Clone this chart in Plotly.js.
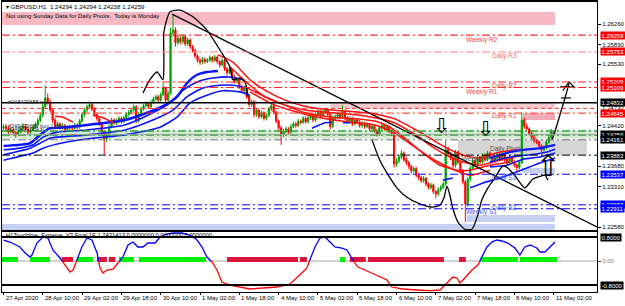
<!DOCTYPE html>
<html><head><meta charset="utf-8">
<script src="https://cdn.plot.ly/plotly-3.0.1.min.js"></script>
<style>body{margin:0;padding:0;background:#fff}#chart{width:625px;height:306px}</style>
</head><body><div id="chart"></div>
<script>
// ---------- DATA ----------
const O=[1.2437,1.2440,1.2436,1.2431,1.2434,1.2429,1.2426,1.2431,1.2437,1.2441,
1.2434,1.2430,1.2433,1.2439,1.2444,1.2451,1.2460,1.2476,1.2492,1.2485,
1.2470,1.2452,1.2440,1.2445,1.2438,1.2442,1.2435,1.2440,1.2438,1.2437,
1.2443,1.2439,1.2450,1.2462,1.2470,1.2476,1.2480,1.2472,1.2462,1.2455,
1.2445,1.2430,1.2418,1.2425,1.2440,1.2452,1.2447,1.2450,1.2455,1.2449,
1.2456,1.2462,1.2466,1.2470,1.2476,1.2450,1.2462,1.2472,1.2478,1.2482,
1.2476,1.2484,1.2490,1.2494,1.2488,1.2498,1.2510,1.2488,1.2500,1.2610,
1.2615,1.2592,1.2600,1.2594,1.2603,1.2590,1.2597,1.2585,1.2578,1.2568,
1.2560,1.2557,1.2562,1.2558,1.2561,1.2565,1.2560,1.2566,1.2558,1.2552,
1.2560,1.2545,1.2538,1.2544,1.2530,1.2522,1.2526,1.2512,1.2505,1.2510,
1.2495,1.2480,1.2485,1.2462,1.2470,1.2458,1.2465,1.2455,1.2460,1.2472,
1.2478,1.2466,1.2450,1.2438,1.2426,1.2432,1.2436,1.2430,1.2440,1.2445,
1.2442,1.2450,1.2448,1.2455,1.2449,1.2456,1.2460,1.2452,1.2462,1.2468,
1.2460,1.2466,1.2470,1.2462,1.2440,1.2455,1.2458,1.2462,1.2457,1.2468,
1.2456,1.2450,1.2455,1.2445,1.2452,1.2448,1.2442,1.2446,1.2440,1.2444,
1.2436,1.2441,1.2433,1.2426,1.2438,1.2442,1.2436,1.2440,1.2432,1.2428,
1.2372,1.2378,1.2385,1.2392,1.2380,1.2375,1.2368,1.2360,1.2364,1.2352,
1.2348,1.2342,1.2346,1.2336,1.2330,1.2334,1.2322,1.2318,1.2326,1.2330,
1.2336,1.2398,1.2390,1.2384,1.2370,1.2394,1.2375,1.2360,1.2340,1.2300,
1.2345,1.2365,1.2378,1.2370,1.2384,1.2376,1.2388,1.2380,1.2392,1.2385,
1.2378,1.2383,1.2390,1.2382,1.2388,1.2380,1.2374,1.2384,1.2376,1.2370,
1.2366,1.2375,1.2452,1.2440,1.2436,1.2428,1.2420,1.2415,1.2412,1.2405,
1.2398,1.2402,1.2412,1.2420,1.24294];
const H=[1.2444,1.2445,1.2440,1.2438,1.2437,1.2432,1.2435,1.2441,1.2446,1.2444,
1.2437,1.2436,1.2443,1.2448,1.2456,1.2465,1.2481,1.2515,1.2500,1.2488,
1.2473,1.2456,1.2449,1.2448,1.2446,1.2445,1.2443,1.2443,1.2442,1.2447,
1.2446,1.2454,1.2466,1.2474,1.2480,1.2486,1.2484,1.2475,1.2466,1.2458,
1.2448,1.2433,1.2430,1.2444,1.2456,1.2455,1.2454,1.2459,1.2458,1.2460,
1.2466,1.2470,1.2474,1.2480,1.2479,1.2466,1.2476,1.2482,1.2486,1.2485,
1.2488,1.2494,1.2498,1.2497,1.2502,1.2519,1.2513,1.2505,1.2619,1.2642,
1.2620,1.2606,1.2604,1.2608,1.2606,1.2601,1.2600,1.2588,1.2581,1.2571,
1.2564,1.2566,1.2565,1.2564,1.2569,1.2568,1.2570,1.2569,1.2561,1.2564,
1.2563,1.2548,1.2548,1.2547,1.2534,1.2530,1.2529,1.2516,1.2514,1.2513,
1.2498,1.2489,1.2488,1.2474,1.2473,1.2469,1.2468,1.2464,1.2476,1.2482,
1.2481,1.2469,1.2453,1.2441,1.2436,1.2440,1.2439,1.2444,1.2449,1.2448,
1.2454,1.2453,1.2459,1.2458,1.2460,1.2464,1.2463,1.2466,1.2472,1.2471,
1.2470,1.2474,1.2473,1.2465,1.2459,1.2462,1.2466,1.2465,1.2479,1.2471,
1.2459,1.2459,1.2458,1.2456,1.2455,1.2452,1.2450,1.2449,1.2448,1.2447,
1.2445,1.2444,1.2436,1.2442,1.2446,1.2445,1.2444,1.2443,1.2435,1.2431,
1.2383,1.2389,1.2397,1.2395,1.2384,1.2378,1.2371,1.2368,1.2367,1.2356,
1.2351,1.2350,1.2349,1.2339,1.2338,1.2337,1.2325,1.2330,1.2334,1.2340,
1.2415,1.2404,1.2394,1.2387,1.2398,1.2397,1.2378,1.2363,1.2343,1.2349,
1.2369,1.2382,1.2381,1.2388,1.2387,1.2392,1.2391,1.2396,1.2395,1.2388,
1.2386,1.2394,1.2393,1.2392,1.2391,1.2383,1.2388,1.2387,1.2379,1.2373,
1.2379,1.2466,1.2456,1.2446,1.2439,1.2431,1.2424,1.2418,1.2415,1.2408,
1.2406,1.2416,1.2424,1.2436,1.24294];
const L=[1.2434,1.2432,1.2427,1.2428,1.2425,1.2420,1.2423,1.2428,1.2434,1.2430,
1.2426,1.2427,1.2431,1.2436,1.2441,1.2448,1.2457,1.2472,1.2480,1.2466,
1.2447,1.2436,1.2436,1.2434,1.2435,1.2431,1.2432,1.2434,1.2433,1.2434,
1.2435,1.2436,1.2447,1.2458,1.2466,1.2472,1.2468,1.2458,1.2451,1.2441,
1.2426,1.2389,1.2412,1.2421,1.2437,1.2443,1.2443,1.2446,1.2445,1.2446,
1.2452,1.2458,1.2462,1.2467,1.2446,1.2447,1.2459,1.2469,1.2475,1.2472,
1.2473,1.2481,1.2486,1.2484,1.2485,1.2495,1.2484,1.2485,1.2497,1.2603,
1.2585,1.2588,1.2589,1.2590,1.2586,1.2586,1.2581,1.2574,1.2564,1.2556,
1.2552,1.2553,1.2554,1.2555,1.2557,1.2556,1.2557,1.2554,1.2547,1.2549,
1.2541,1.2533,1.2535,1.2526,1.2518,1.2518,1.2508,1.2500,1.2501,1.2490,
1.2476,1.2476,1.2457,1.2458,1.2454,1.2455,1.2451,1.2451,1.2457,1.2468,
1.2462,1.2446,1.2433,1.2407,1.2421,1.2428,1.2426,1.2427,1.2437,1.2438,
1.2439,1.2444,1.2445,1.2445,1.2446,1.2452,1.2448,1.2449,1.2459,1.2456,
1.2457,1.2462,1.2458,1.2435,1.2437,1.2451,1.2454,1.2453,1.2454,1.2452,
1.2446,1.2446,1.2441,1.2442,1.2444,1.2438,1.2438,1.2436,1.2437,1.2432,
1.2433,1.2429,1.2422,1.2423,1.2434,1.2432,1.2432,1.2428,1.2423,1.2366,
1.2367,1.2374,1.2381,1.2376,1.2370,1.2363,1.2355,1.2356,1.2348,1.2343,
1.2338,1.2338,1.2332,1.2326,1.2326,1.2318,1.2310,1.2314,1.2322,1.2327,
1.2333,1.2385,1.2379,1.2365,1.2366,1.2371,1.2355,1.2335,1.2267,1.2295,
1.2340,1.2361,1.2366,1.2367,1.2372,1.2373,1.2376,1.2377,1.2381,1.2374,
1.2375,1.2380,1.2378,1.2379,1.2376,1.2370,1.2371,1.2372,1.2366,1.2358,
1.2362,1.2372,1.2436,1.2432,1.2424,1.2416,1.2410,1.2408,1.2401,1.2394,
1.2395,1.2399,1.2409,1.2417,1.24238];
const C=[1.2440,1.2436,1.2431,1.2434,1.2429,1.2426,1.2431,1.2437,1.2441,1.2434,
1.2430,1.2433,1.2439,1.2444,1.2451,1.2460,1.2476,1.2492,1.2485,1.2470,
1.2452,1.2440,1.2445,1.2438,1.2442,1.2435,1.2440,1.2438,1.2437,1.2443,
1.2439,1.2450,1.2462,1.2470,1.2476,1.2480,1.2472,1.2462,1.2455,1.2445,
1.2430,1.2418,1.2425,1.2440,1.2452,1.2447,1.2450,1.2455,1.2449,1.2456,
1.2462,1.2466,1.2470,1.2476,1.2450,1.2462,1.2472,1.2478,1.2482,1.2476,
1.2484,1.2490,1.2494,1.2488,1.2498,1.2510,1.2488,1.2500,1.2610,1.2615,
1.2592,1.2600,1.2594,1.2603,1.2590,1.2597,1.2585,1.2578,1.2568,1.2560,
1.2557,1.2562,1.2558,1.2561,1.2565,1.2560,1.2566,1.2558,1.2552,1.2560,
1.2545,1.2538,1.2544,1.2530,1.2522,1.2526,1.2512,1.2505,1.2510,1.2495,
1.2480,1.2485,1.2462,1.2470,1.2458,1.2465,1.2455,1.2460,1.2472,1.2478,
1.2466,1.2450,1.2438,1.2426,1.2432,1.2436,1.2430,1.2440,1.2445,1.2442,
1.2450,1.2448,1.2455,1.2449,1.2456,1.2460,1.2452,1.2462,1.2468,1.2460,
1.2466,1.2470,1.2462,1.2440,1.2455,1.2458,1.2462,1.2457,1.2468,1.2456,
1.2450,1.2455,1.2445,1.2452,1.2448,1.2442,1.2446,1.2440,1.2444,1.2436,
1.2441,1.2433,1.2426,1.2438,1.2442,1.2436,1.2440,1.2432,1.2428,1.2372,
1.2378,1.2385,1.2392,1.2380,1.2375,1.2368,1.2360,1.2364,1.2352,1.2348,
1.2342,1.2346,1.2336,1.2330,1.2334,1.2322,1.2318,1.2326,1.2330,1.2336,
1.2398,1.2390,1.2384,1.2370,1.2394,1.2375,1.2360,1.2340,1.2300,1.2345,
1.2365,1.2378,1.2370,1.2384,1.2376,1.2388,1.2380,1.2392,1.2385,1.2378,
1.2383,1.2390,1.2382,1.2388,1.2380,1.2374,1.2384,1.2376,1.2370,1.2366,
1.2375,1.2452,1.2440,1.2436,1.2428,1.2420,1.2415,1.2412,1.2405,1.2398,
1.2402,1.2412,1.2420,1.2432,1.24259];

const timeTickBars=[0,16,32,48,64,80,96,112,128,144,160,176,192,208,224];
const timeTickLabels=["27 Apr 2020","28 Apr 10:00","29 Apr 02:00","29 Apr 18:00","30 Apr 10:00","1 May 02:00","1 May 18:00","4 May 10:00","5 May 02:00","5 May 18:00","6 May 10:00","7 May 02:00","7 May 18:00","8 May 10:00","11 May 02:00"];

const priceTicks=[1.26260,1.25890,1.25530,1.24420,1.23680,1.23310,1.22580];

// moving averages (bar index, price)
const maUpX=[[0,10.8,14.9,18.9,25.8,34.0,49.4,59.6,64.9,70.6,74.7,78.8,82.8,87.3],
 [0,6.7,12.0,16.1,21.8,34.0,49.4,60.8,67.8,73.1,78.8,85.3,92.2,97.5],
 [0,10.8,14.9,18.9,34.0,49.4,60.8,69.0,74.7,81.2,88.1,93.4,99.1],
 [0,12.0,16.1,25.8,36.4,49.4,63.7,70.6,75.9,82.8,89.3,96.3,100.3]];
const maUpY=[[1.2405,1.2410,1.2425,1.2437,1.2439,1.2443,1.2452,1.2467,1.2477,1.2494,1.2519,1.2534,1.2539,1.2541],
 [1.2398,1.2401,1.2407,1.2421,1.2430,1.2434,1.2443,1.2465,1.2483,1.2506,1.2521,1.2528,1.2530,1.2525],
 [1.2389,1.2401,1.2410,1.2419,1.2425,1.2434,1.2452,1.2470,1.2494,1.2510,1.2515,1.2515,1.2510],
 [1.2379,1.2392,1.2401,1.2412,1.2419,1.2425,1.2439,1.2457,1.2483,1.2497,1.2505,1.2503,1.2497]];
const maDownX=[[87.3,93.4,100.3,106.4,114.6,122.7,133.7,143.1,151.2,159.3,166.7,173.6,180.5,186.6,193.9,202.1,210.2],
 [92.2,100.3,106.4,114.6,122.7,133.7,144.3,151.2,158.5,166.7,174.8,181.7,188.6,193.9,202.1,210.2],
 [98.3,105.2,112.5,122.7,133.7,144.3,151.2,157.3,164.2,170.7,177.7,184.6,189.9,198.0,206.2],
 [100.3,108.5,116.6,128.8,141.0,151.2,159.3,167.5,175.6,183.8,189.9,198.0],
 [21.0,24.2,28.3],[36.4,40.5,44.6]];
const maDownY=[[1.2570,1.2557,1.2525,1.2506,1.2488,1.2477,1.2470,1.2467,1.2463,1.2454,1.2437,1.2419,1.2401,1.2389,1.2383,1.2394,1.2398],
 [1.2548,1.2515,1.2494,1.2479,1.2470,1.2465,1.2461,1.2456,1.2448,1.2428,1.2403,1.2385,1.2374,1.2370,1.2379,1.2387],
 [1.2512,1.2497,1.2483,1.2465,1.2457,1.2454,1.2450,1.2439,1.2416,1.2392,1.2370,1.2361,1.2361,1.2370,1.2376],
 [1.2503,1.2483,1.2470,1.2456,1.2448,1.2443,1.2428,1.2403,1.2379,1.2361,1.2352,1.2361],
 [1.2459,1.2457,1.2448],[1.2461,1.2456,1.2447]];
const maEndX=[[198.0,206.2,211.5,218.4,224.5],[198.0,206.2,214.3,221.2,224.5],[198.0,204.9,211.5,218.4,224.5],
 [189.9,195.2,202.1,210.2,218.4,224.5],[178.9,182.9],[125.6,130.9,133.7],[138.2,141.0]];
const maEndY=[[1.2383,1.2394,1.2398,1.2401,1.2407],[1.2376,1.2385,1.2389,1.2394,1.2399],[1.2367,1.2370,1.2381,1.2385,1.2392],
 [1.2329,1.2338,1.2347,1.2360,1.2374,1.2383],[1.2343,1.2347],[1.2437,1.2447,1.2448],[1.2447,1.2447]];

// hand drawings (bar index, price)
const trendX=[68.6,241.6], trendY=[1.2644,1.2258];
const arcX=[56.8,59.6,62.5,64.9,65.3,65.3,67.8,71.8,77.1,82.8,88.1,92.2,93.4,96.3,98.3,99.5];
const arcY=[1.2501,1.2525,1.2539,1.2525,1.2561,1.2612,1.2648,1.2651,1.2639,1.2615,1.2579,1.2548,1.2525,1.2528,1.2521,1.2494];
const cupX=[150.0,153.2,156.1,160.1,164.2,169.5,174.8,177.7,179.3,180.5,181.7,182.9,185.0,187.8,190.7,193.1,194.7,197.2,200.0,203.3,205.3,208.2,212.2,215.5,218.4,220.4,221.6];
const cupY=[1.2416,1.2379,1.2356,1.2329,1.2312,1.2300,1.2294,1.2298,1.2311,1.2332,1.2316,1.2292,1.2267,1.2254,1.2254,1.2280,1.2307,1.2329,1.2347,1.2369,1.2365,1.2351,1.2329,1.2345,1.2350,1.2352,1.2343];
const upCurveX=[223.3,224.9,226.5,228.1,229.3,230.2];
const upCurveY=[1.2416,1.2437,1.2461,1.2485,1.2503,1.2519];
const headX=[227.7,230.2,232.7,null,226.5,232.2,null,226.9,231.0];
const headY=[1.2505,1.2521,1.2510,null,1.2512,1.2512,null,1.2492,1.2492];

// pivot levels
const lvlPrice=[1.26059,1.25753,1.25209,1.25109,1.24832,1.24730,1.24645,1.2432,1.2425,1.24259,1.24161,1.23883,1.23537,1.22983,1.22911];
const lvlColor=['#ff0000','#ff8080','#ff2020','#ff2020','#000000','#ff3030','#ff3010','#2e9e2e','#2e9e2e','#a0a0a0','#707070','#000000','#0000ff','#0000ff','#0000ff'];
const lvlDash=['dd','dd','dd','dd','solid','dash','dd','dd','dd','solid','dd','dd','dd','dd','dd'];
const lvlWidth=[1,1,1,1,1.5,1,1,1.5,1.5,1,1,1,1,1,1];

const zoneX0=[-0.61,133,211.5,185,211,188.6,-0.61,-0.61];
const zoneX1=[224.5,224.5,224.5,237.5,224.5,224.5,224.5,241.6];
const zoneLo=[1.26242,1.24730,1.2452,1.23883,1.2356,1.2267,1.22526,1.2418];
const zoneHi=[1.26478,1.24832,1.24645,1.24161,1.2365,1.2280,1.22635,1.2432];
const zoneColor=['#f8b8c4','#f8c6ce','#f6a9b8','#d5d5d5','#c6d0f2','#c6d0f2','#c6d0f2','rgba(60,170,60,0.22)'];

const pivNames=['Weekly R2','Daily R3','Daily R2','Weekly R1','Daily R1','Daily Pivot','Weekly Pivot','Daily S1','Daily S2','Weekly S1'];
const pivX=[194.7,204.1,204.1,194.7,204.1,204.5,194.3,204.1,204.1,194.7];
const pivY=[1.2597,1.2568,1.2514,1.2503,1.2459,1.2399,1.2381,1.2347,1.2292,1.2285];
const pivColor=['#f04848','#ff6a6a','#f04848','#f04848','#f04848','#505050','#505050','#4060ff','#4060ff','#4060ff'];

const tagPrice=[1.26059,1.25753,1.25209,1.25109,1.24832,1.24645,1.24259,1.24161,1.23883,1.23537,1.22983,1.22911];
const tagColor=['#ff0000','#ff0000','#ff0000','#ff0000','#000000','#ff0000','#000000','#000000','#000000','#0000ff','#0000ff','#0000ff'];

// indicator
const indX=[0,2.6,6.7,8.8,10.8,11.6,13.6,16.1,18.1,20.1,23.0,24.2,25.8,27.1,28.3,29.9,31.9,34.0,36.0,38.1,39.3,40.5,42.1,44.6,46.6,48.6,50.7,52.7,54.7,56.8,58.8,61.7,63.7,66.5,69.0,72.6,75.9,78.8,80.8,82.8,84.9,86.9,88.9,92.2,96.3,100.3,105.6,111.3,116.6,119.9,121.9,123.5,124.7,126.8,128.8,130.9,132.9,134.9,137.8,139.8,141.0,142.2,144.3,147.1,150.0,153.2,156.1,158.1,162.6,168.3,173.6,177.7,180.5,182.9,184.6,185.8,187.8,190.7,193.1,194.7,196.8,198.8,200.9,202.9,205.3,208.2,210.2,212.2,214.3,217.1,218.4,220.4,222.4,224.5];
const indV=[0.70,0.633,0.467,0.267,0.133,0.2,0.6,0.8,0.767,0.367,0.1,-0.033,-0.233,-0.367,-0.3,0.033,0.467,0.767,0.7,0.267,-0.233,-0.4,-0.3,-0.267,-0.067,0.133,0.533,0.633,0.467,0.467,0.6,0.6,0.8,0.9,0.933,0.933,0.867,0.7,0.467,0.133,-0.033,-0.3,-0.7,-0.8,-0.867,-0.933,-0.9,-0.867,-0.767,-0.533,-0.367,-0.233,0.033,0.467,0.767,0.8,0.633,0.467,0.433,0.367,0.2,0.033,-0.2,-0.3,-0.4,-0.533,-0.633,-0.867,-0.933,-0.967,-0.99,-0.967,-0.733,-0.533,-0.567,-0.733,-0.567,-0.3,-0.133,0.133,0.467,0.633,0.7,0.667,0.6,0.433,0.2,0.467,0.533,0.433,0.3,0.3,0.467,0.633];
const sigGreenFrom=[-0.6,10.8,29.9,47.0,55.1,137,194.3,210.2];
const sigGreenTo=[5.9,18.9,36.4,53.1,82.4,139,209.4,225.3];
const sigRedFrom=[23.8,38.1,42.9,91,120.7,141,148.4,185.4];
const sigRedTo=[28.3,42.1,45.4,119.9,123.5,147.5,179.3,188.2];

// ---------- BUILD ----------
const FF='"Liberation Sans",Arial,sans-serif';
const idx=C.map((_,i)=>i);
const XR=[-0.61,241.6];
const traces=[];
traces.push({type:'candlestick',x:idx,open:O,high:H,low:L,close:C,xaxis:'x',yaxis:'y',
  increasing:{line:{color:'#00a000',width:1},fillcolor:'#00a000'},
  decreasing:{line:{color:'#ff0000',width:1},fillcolor:'#ff0000'},whiskerwidth:0,hoverinfo:'skip'});
const line=(x,y,color,width,ax)=>({type:'scatter',mode:'lines',x:x,y:y,xaxis:ax?'x2':'x',yaxis:ax?'y2':'y',
  line:{color:color,width:width,shape:'spline',smoothing:0.6},hoverinfo:'skip',connectgaps:false});
maUpX.forEach((x,k)=>traces.push(line(x,maUpY[k],'#0a14ff',k===0?2.5:1.6)));
maDownX.forEach((x,k)=>traces.push(line(x,maDownY[k],'#ff1010',1.5)));
maEndX.forEach((x,k)=>traces.push(line(x,maEndY[k],'#0a14ff',k===0?2.2:1.6)));
traces.push(line(trendX,trendY,'#000',1.3));
traces.push(line(arcX,arcY,'#000',1.3));
traces.push(line(cupX,cupY,'#000',1.3));
traces.push(line(upCurveX,upCurveY,'#000',1.3));
traces.push({type:'scatter',mode:'lines',x:headX,y:headY,xaxis:'x',yaxis:'y',line:{color:'#000',width:1.2},hoverinfo:'skip'});

// indicator split blue/red
const bx=[],by=[],rx=[],ry=[];
for(let k=0;k<indX.length;k++){
  const v=indV[k],x=indX[k];
  if(k>0){const pv=indV[k-1],px=indX[k-1];
    if((pv>=0)!==(v>=0)){const xc=px+(x-px)*(pv/(pv-v));
      bx.push(xc);by.push(0);rx.push(xc);ry.push(0);
      if(v>=0){rx.push(null);ry.push(null);}else{bx.push(null);by.push(null);}}}
  if(v>=0){bx.push(x);by.push(v);}else{rx.push(x);ry.push(v);}
}
const segs=(a,b)=>{const x=[],y=[];a.forEach((s,i)=>{x.push(s,b[i],null);y.push(0.05,0.05,null);});return {x,y};};
const gs=segs(sigGreenFrom,sigGreenTo), rs=segs(sigRedFrom,sigRedTo);
traces.push({type:'scatter',mode:'lines',x:gs.x,y:gs.y,xaxis:'x2',yaxis:'y2',line:{color:'#00f000',width:5},hoverinfo:'skip'});
traces.push({type:'scatter',mode:'lines',x:rs.x,y:rs.y,xaxis:'x2',yaxis:'y2',line:{color:'#dc143c',width:5},hoverinfo:'skip'});
traces.push({type:'scatter',mode:'lines',x:bx,y:by,xaxis:'x2',yaxis:'y2',line:{color:'#0000ff',width:1.3},hoverinfo:'skip'});
traces.push({type:'scatter',mode:'lines',x:rx,y:ry,xaxis:'x2',yaxis:'y2',line:{color:'#ff0000',width:1.3},hoverinfo:'skip'});

const shapes=[];
zoneX0.forEach((x0,k)=>shapes.push({type:'rect',layer:'below',xref:'x',yref:'y',x0:x0,x1:zoneX1[k],y0:zoneLo[k],y1:zoneHi[k],fillcolor:zoneColor[k],line:{width:0}}));
lvlPrice.forEach((p,k)=>shapes.push({type:'line',xref:'paper',yref:'y',x0:0,x1:1,y0:p,y1:p,
  line:{color:lvlColor[k],width:lvlWidth[k],dash:lvlDash[k]==='dd'?'8px,3px,2px,3px':(lvlDash[k]==='dash'?'4px,3px':'solid')}}));
shapes.push({type:'line',xref:'paper',yref:'y2',x0:0,x1:1,y0:0,y1:0,line:{color:'#a8a8a8',width:1},layer:'below'});
shapes.push({type:'line',xref:'paper',yref:'y2',x0:0,x1:1,y0:0.8,y1:0.8,line:{color:'#000',width:2}});
shapes.push({type:'line',xref:'paper',yref:'y2',x0:0,x1:1,y0:-0.8,y1:-0.8,line:{color:'#000',width:2}});

const ann=[];
const tf=(s,c)=>({family:FF,size:s,color:c||'#000'});
ann.push({xref:'paper',yref:'y',x:0.003,y:1.2657,xanchor:'left',yanchor:'middle',showarrow:false,
  text:'▾ GBPUSD.H1  1.24294 1.24294 1.24238 1.24259',font:tf(6.2)});
ann.push({xref:'paper',yref:'y',x:0.003,y:1.2640,xanchor:'left',yanchor:'middle',showarrow:false,
  text:'Not using Sunday Data for Daily Pivots.  Today is Monday',font:tf(6)});
pivNames.forEach((n,k)=>ann.push({xref:'x',yref:'y',x:pivX[k],y:pivY[k],showarrow:false,text:n,font:tf(6.5,pivColor[k]),xanchor:'center',yanchor:'middle'}));
ann.push({xref:'paper',yref:'y',x:0.006,y:1.2485,xanchor:'left',yanchor:'middle',showarrow:false,text:'#248479688 tp',font:tf(5.5,'#333')});
ann.push({xref:'paper',yref:'y',x:0.006,y:1.2441,xanchor:'left',yanchor:'middle',showarrow:false,text:'#246479689 buy 1.00',font:tf(5.5,'#333')});
ann.push({xref:'paper',yref:'y',x:0.006,y:1.2435,xanchor:'left',yanchor:'middle',showarrow:false,text:'#246479689 sl',font:tf(5.5,'#333')});
ann.push({xref:'x',yref:'y',x:178.5,y:1.2441,showarrow:false,text:'⇩',font:{family:'DejaVu Sans',size:21,color:'#000'}});
ann.push({xref:'x',yref:'y',x:196.4,y:1.2435,showarrow:false,text:'⇩',font:{family:'DejaVu Sans',size:21,color:'#000'}});
ann.push({xref:'x',yref:'y',x:221.6,y:1.2368,showarrow:false,text:'⇧',font:{family:'DejaVu Sans',size:29,color:'#000'}});
ann.push({xref:'paper',yref:'y',x:1,xshift:3,y:1.2473,xanchor:'left',yanchor:'middle',showarrow:false,text:'1.24730',font:tf(6,'#000')});
tagPrice.forEach((p,k)=>ann.push({xref:'paper',yref:'y',x:1,xshift:3,y:p,xanchor:'left',yanchor:'middle',showarrow:false,
  text:p.toFixed(5),font:tf(6,'#fff'),bgcolor:tagColor[k],borderpad:0.6}));
ann.push({xref:'paper',yref:'y2',x:0.003,y:0.86,xanchor:'left',yanchor:'middle',showarrow:false,
  text:'H1Touchline_Extreme_V3 Final 1E 1.7431413 0.0000000 0.0000000 0.0000000',font:tf(5.8)});
[0.8,-0.8].forEach(v=>ann.push({xref:'paper',yref:'y2',x:1,xshift:3,y:v,xanchor:'left',yanchor:'middle',showarrow:false,
  text:v.toFixed(4),font:tf(6,'#fff'),bgcolor:'#000',borderpad:0.6}));
timeTickBars.forEach((b,k)=>ann.push({xref:'x2',yref:'paper',x:b,y:0,yshift:-1,xanchor:'left',yanchor:'top',showarrow:false,
  text:timeTickLabels[k],font:tf(6,'#000'),xshift:0}));

const layout={width:625,height:306,margin:{l:2,r:28,t:2,b:14},paper_bgcolor:'#fff',plot_bgcolor:'#fff',showlegend:false,
  font:{family:FF,size:6,color:'#000'},
  xaxis:{domain:[0,1],anchor:'y',range:XR,showticklabels:false,ticks:'',showgrid:false,zeroline:false,
    showline:true,mirror:true,linecolor:'#000',linewidth:2,rangeslider:{visible:false},fixedrange:true},
  yaxis:{domain:[0.2138,1],range:[1.22526,1.26659],side:'right',tickvals:priceTicks,ticktext:priceTicks.map(v=>v.toFixed(5)),
    ticks:'outside',ticklen:3,tickcolor:'#000',tickfont:{family:FF,size:6,color:'#000'},showgrid:false,zeroline:false,
    showline:true,mirror:true,linecolor:'#000',linewidth:1,fixedrange:true},
  xaxis2:{domain:[0,1],anchor:'y2',range:XR,tickvals:timeTickBars,showticklabels:false,ticks:'outside',ticklen:2,
    tickcolor:'#000',showgrid:false,zeroline:false,showline:true,mirror:true,linecolor:'#000',linewidth:1,fixedrange:true},
  yaxis2:{domain:[0,0.2103],range:[-1.033,1.0],side:'right',anchor:'x2',tickvals:[0],ticktext:['0.00'],ticks:'outside',ticklen:3,
    tickfont:{family:FF,size:6,color:'#808080'},showgrid:false,zeroline:false,showline:true,mirror:true,linecolor:'#000',linewidth:1,fixedrange:true},
  shapes:shapes,annotations:ann};
Plotly.newPlot('chart',traces,layout,{staticPlot:true,displayModeBar:false});
</script></body></html>
